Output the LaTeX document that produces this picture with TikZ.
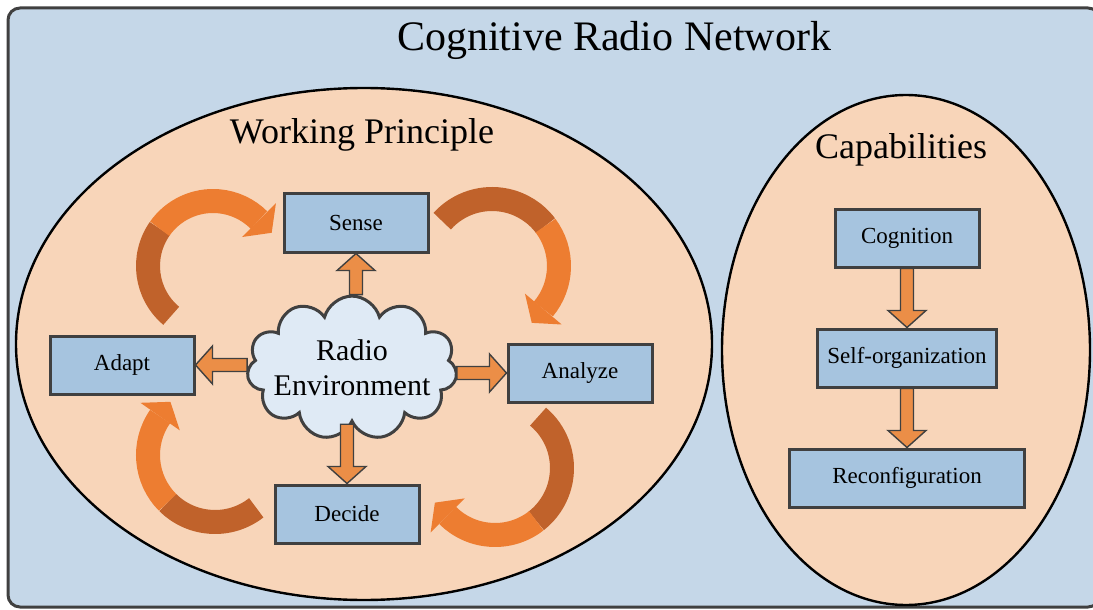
\documentclass[tikz,border=0pt]{standalone}
\usepackage{fontspec}
\setmainfont{Liberation Serif}
\usetikzlibrary{shapes.symbols,calc}

\definecolor{bgblue}{HTML}{C5D7E8}
\definecolor{peach}{HTML}{F8D5B9}
\definecolor{boxblue}{HTML}{A6C4DF}
\definecolor{cloudblue}{HTML}{DFEAF5}
\definecolor{edgegray}{HTML}{404040}
\definecolor{arrorange}{HTML}{EB8E47}
\definecolor{benddark}{HTML}{C0622B}
\definecolor{bendlight}{HTML}{ED7D31}

% straight block arrow from #1 to #2
\newcommand{\blockarrow}[2]{%
  \filldraw[blockarr] let \p1=(#1), \p2=(#2), \n1={atan2(\y2-\y1,\x2-\x1)} in
    ($(\p1)+(\n1+90:3.25pt)$) -- ($(\p2)+(\n1+180:8.5pt)+(\n1+90:3.25pt)$)
    -- ($(\p2)+(\n1+180:8.5pt)+(\n1+90:9.5pt)$) -- (\p2)
    -- ($(\p2)+(\n1+180:8.5pt)+(\n1-90:9.5pt)$) -- ($(\p2)+(\n1+180:8.5pt)+(\n1-90:3.25pt)$)
    -- ($(\p1)+(\n1-90:3.25pt)$) -- cycle;}

% bent arrow: centre, radius, tail angle, colour change, head angle
\newcommand{\bentarrow}[5]{%
  \draw[bentdark] ($(#1)+(#3:#2)$) arc[start angle=#3, end angle=#4, radius=#2];
  \draw[bentlight] ($(#1)+(#4:#2)$) arc[start angle=#4, end angle=#5, radius=#2];
  \fill[bendlight] ($(#1)+(#5:#2)+(#5+90:18)$) -- ($(#1)+(#5:#2+24)$)
    -- ($(#1)+(#5:#2-24)$) -- cycle;}

\begin{document}
\begin{tikzpicture}[x=0.5pt,y=-0.5pt,node distance=60pt,
  box/.style={draw=edgegray,line width=1.5pt,fill=boxblue,minimum width=72pt,
    minimum height=29pt,inner sep=0pt,font=\fontsize{11.5}{14}\selectfont},
  heading/.style={font=\fontsize{18}{22}\selectfont},
  blockarr/.style={draw=edgegray,line width=0.7pt,fill=arrorange},
  bentdark/.style={draw=benddark,line width=12pt},
  bentlight/.style={draw=bendlight,line width=12pt}]
\useasboundingbox (0,0) rectangle (1093,610);

\draw[fill=bgblue,draw=edgegray,line width=1.5pt,rounded corners=6pt] (8,8) rectangle (1100,607);
\draw[fill=peach,line width=1.2pt] (364,344) ellipse [x radius=348, y radius=256];
\draw[fill=peach,line width=1.2pt] (906,350) ellipse [x radius=184, y radius=255];

\node (title) at (614,40) {\fontsize{21}{25}\selectfont Cognitive Radio Network};
\node[heading] (wp) at (362,135) {Working Principle};
\node[heading] (cap) at (901,150) {Capabilities};

% the cycle
\coordinate (c1) at (213,266);
\coordinate (c2) at (492,266);
\coordinate (c3) at (495,468);
\coordinate (c4) at (215,455);
\bentarrow{c1}{65}{130}{215}{315}
\bentarrow{c2}{67}{222}{323}{400}
\bentarrow{c3}{67}{310}{412}{495}
\bentarrow{c4}{67}{52}{135}{215}

\node[box] (sense)   at (356,223) {Sense};
\node[box] (adapt)   at (122,365) {Adapt};
\node[box] (analyze) at (580,373) {Analyze};
\node[box] (decide)  at (347,514) {Decide};
\node[cloud,cloud puffs=11,aspect=1.6,draw=edgegray,line width=1.5pt,fill=cloudblue,
  minimum width=105pt,minimum height=67pt,inner xsep=-8pt,inner ysep=0pt,align=center,
  font=\fontsize{15}{17.5}\selectfont] (env) at (352,368) {Radio\\Environment};

\blockarrow{sense.south |- env.north}{sense.south}
\blockarrow{adapt.east -| env.west}{adapt.east}
\blockarrow{analyze.west -| env.east}{analyze.west}
\blockarrow{decide.north |- env.south}{decide.north}

% capabilities
\node[box] (cog) at (907,238) {Cognition};
\node[box,minimum width=89.5pt] (selforg) [below of=cog] {Self-organization};
\node[box,minimum width=117.5pt] (reconf) [below of=selforg] {Reconfiguration};
\blockarrow{cog.south}{selforg.north}
\blockarrow{selforg.south}{reconf.north}
\end{tikzpicture}
\end{document}
